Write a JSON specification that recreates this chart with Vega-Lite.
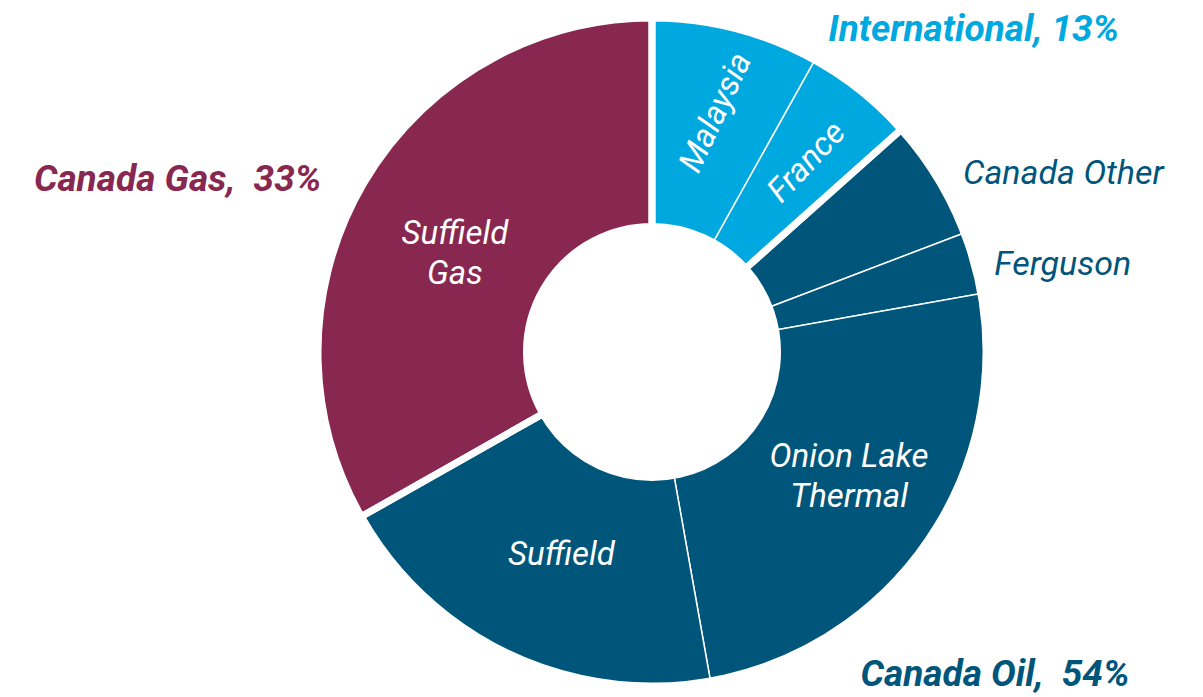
{
  "$schema": "https://vega.github.io/schema/vega-lite/v6.json",
  "width": 1102,
  "height": 690,
  "autosize": {"type": "none"},
  "padding": {"left": 101, "top": 7, "right": 0, "bottom": 0},
  "background": "white",
  "config": {"view": {"stroke": null}, "text": {"font": "Roboto"}},
  "datasets": {
    "segments": [
      {"seq": 1, "group": "International", "segment": "Malaysia", "label": "Malaysia", "value": 8.1},
      {"seq": 2, "group": "International", "segment": "France", "label": "France", "value": 5.3},
      {"seq": 3, "group": "Canada Oil", "segment": "Canada Other", "label": "Canada Other", "value": 5.8},
      {"seq": 4, "group": "Canada Oil", "segment": "Ferguson", "label": "Ferguson", "value": 3.0},
      {"seq": 5, "group": "Canada Oil", "segment": "Onion Lake Thermal", "label": "Onion Lake\nThermal", "value": 25.0},
      {"seq": 6, "group": "Canada Oil", "segment": "Suffield", "label": "Suffield", "value": 19.6},
      {"seq": 7, "group": "Canada Gas", "segment": "Suffield Gas", "label": "Suffield\nGas", "value": 33.2}
    ],
    "groups": [
      {"seq": 1, "group": "International", "label": "International, 13%", "value": 13.4},
      {"seq": 2, "group": "Canada Oil", "label": "Canada Oil,\u00a0 54%", "value": 53.4},
      {"seq": 3, "group": "Canada Gas", "label": "Canada Gas,\u00a0 33%", "value": 33.2}
    ]
  },
  "layer": [
    {
      "data": {"name": "segments"},
      "mark": {"type": "arc", "outerRadius": 334, "innerRadius": 125.5, "stroke": "white", "strokeWidth": 1.5},
      "encoding": {
        "theta": {"field": "value", "type": "quantitative", "stack": true},
        "order": {"field": "seq", "type": "quantitative"},
        "detail": {"field": "segment", "type": "nominal"},
        "color": {"field": "group", "type": "nominal", "legend": null,
          "scale": {"domain": ["International", "Canada Oil", "Canada Gas"], "range": ["#00A8E0", "#00557A", "#88274F"]}}
      }
    },
    {
      "data": {"name": "groups"},
      "mark": {"type": "arc", "outerRadius": 334, "innerRadius": 125.5, "fillOpacity": 0, "fill": "white", "stroke": "white", "strokeWidth": 7, "strokeJoin": "miter"},
      "encoding": {
        "theta": {"field": "value", "type": "quantitative", "stack": true},
        "order": {"field": "seq", "type": "quantitative"},
        "detail": {"field": "group", "type": "nominal"}
      }
    },
    {
      "data": {"name": "segments"},
      "mark": {"type": "text", "radius": 220, "dx": -7, "dy": -7, "font": "Roboto", "fontStyle": "italic", "fontSize": 33, "lineBreak": "\n", "lineHeight": 40, "align": "center", "baseline": "middle", "color": "white"},
      "encoding": {
        "theta": {"field": "value", "type": "quantitative", "stack": true},
        "order": {"field": "seq", "type": "quantitative"},
        "detail": {"field": "segment", "type": "nominal"},
        "text": {"condition": {"test": "datum.segment === 'Suffield Gas'", "field": "label", "type": "nominal"}, "value": ""}
      }
    },
    {
      "data": {"name": "segments"},
      "mark": {"type": "text", "radius": 222, "dx": 4, "dy": 2, "font": "Roboto", "fontStyle": "italic", "fontSize": 33, "lineBreak": "\n", "lineHeight": 40, "align": "center", "baseline": "middle", "color": "white"},
      "encoding": {
        "theta": {"field": "value", "type": "quantitative", "stack": true},
        "order": {"field": "seq", "type": "quantitative"},
        "detail": {"field": "segment", "type": "nominal"},
        "text": {"condition": {"test": "datum.segment === 'Suffield'", "field": "label", "type": "nominal"}, "value": ""}
      }
    },
    {
      "data": {"name": "segments"},
      "mark": {"type": "text", "radius": 233, "dx": 6, "dy": -28, "font": "Roboto", "fontStyle": "italic", "fontSize": 33, "lineBreak": "\n", "lineHeight": 40, "align": "center", "baseline": "middle", "color": "white"},
      "encoding": {
        "theta": {"field": "value", "type": "quantitative", "stack": true},
        "order": {"field": "seq", "type": "quantitative"},
        "detail": {"field": "segment", "type": "nominal"},
        "text": {"condition": {"test": "datum.segment === 'Onion Lake Thermal'", "field": "label", "type": "nominal"}, "value": ""}
      }
    },
    {
      "data": {"name": "segments"},
      "mark": {"type": "text", "radius": 244, "dx": 4, "dy": 1, "angle": 295, "font": "Roboto", "fontStyle": "italic", "fontSize": 33, "align": "center", "baseline": "middle", "color": "white"},
      "encoding": {
        "theta": {"field": "value", "type": "quantitative", "stack": true},
        "order": {"field": "seq", "type": "quantitative"},
        "detail": {"field": "segment", "type": "nominal"},
        "text": {"condition": {"test": "datum.segment === 'Malaysia'", "field": "label", "type": "nominal"}, "value": ""}
      }
    },
    {
      "data": {"name": "segments"},
      "mark": {"type": "text", "radius": 242, "dx": 3, "dy": 2, "angle": 313, "font": "Roboto", "fontStyle": "italic", "fontSize": 33, "align": "center", "baseline": "middle", "color": "white"},
      "encoding": {
        "theta": {"field": "value", "type": "quantitative", "stack": true},
        "order": {"field": "seq", "type": "quantitative"},
        "detail": {"field": "segment", "type": "nominal"},
        "text": {"condition": {"test": "datum.segment === 'France'", "field": "label", "type": "nominal"}, "value": ""}
      }
    },
    {
      "data": {"name": "segments"},
      "mark": {"type": "text", "radius": 444, "dx": 32, "dy": 53, "font": "Roboto", "fontStyle": "italic", "fontSize": 34, "align": "center", "baseline": "middle", "color": "#00557A"},
      "encoding": {
        "theta": {"field": "value", "type": "quantitative", "stack": true},
        "order": {"field": "seq", "type": "quantitative"},
        "detail": {"field": "segment", "type": "nominal"},
        "text": {"condition": {"test": "datum.segment === 'Canada Other'", "field": "label", "type": "nominal"}, "value": ""}
      }
    },
    {
      "data": {"name": "segments"},
      "mark": {"type": "text", "radius": 419, "dx": 7, "dy": 25, "font": "Roboto", "fontStyle": "italic", "fontSize": 34, "align": "center", "baseline": "middle", "color": "#00557A"},
      "encoding": {
        "theta": {"field": "value", "type": "quantitative", "stack": true},
        "order": {"field": "seq", "type": "quantitative"},
        "detail": {"field": "segment", "type": "nominal"},
        "text": {"condition": {"test": "datum.segment === 'Ferguson'", "field": "label", "type": "nominal"}, "value": ""}
      }
    },
    {
      "data": {"name": "groups"},
      "mark": {"type": "text", "radius": 425, "dx": 148, "dy": 66, "font": "Roboto", "fontStyle": "italic", "fontWeight": "bold", "fontSize": 37, "align": "center", "baseline": "middle", "color": "#00A8E0"},
      "encoding": {
        "theta": {"field": "value", "type": "quantitative", "stack": true},
        "order": {"field": "seq", "type": "quantitative"},
        "detail": {"field": "group", "type": "nominal"},
        "text": {"condition": {"test": "datum.group === 'International'", "field": "label", "type": "nominal"}, "value": ""}
      }
    },
    {
      "data": {"name": "groups"},
      "mark": {"type": "text", "radius": 465, "dx": 72, "dy": -55, "font": "Roboto", "fontStyle": "italic", "fontWeight": "bold", "fontSize": 37, "align": "center", "baseline": "middle", "color": "#00557A"},
      "encoding": {
        "theta": {"field": "value", "type": "quantitative", "stack": true},
        "order": {"field": "seq", "type": "quantitative"},
        "detail": {"field": "group", "type": "nominal"},
        "text": {"condition": {"test": "datum.group === 'Canada Oil'", "field": "label", "type": "nominal"}, "value": ""}
      }
    },
    {
      "data": {"name": "groups"},
      "mark": {"type": "text", "radius": 497, "dx": -45, "dy": 78, "font": "Roboto", "fontStyle": "italic", "fontWeight": "bold", "fontSize": 37, "align": "center", "baseline": "middle", "color": "#88274F"},
      "encoding": {
        "theta": {"field": "value", "type": "quantitative", "stack": true},
        "order": {"field": "seq", "type": "quantitative"},
        "detail": {"field": "group", "type": "nominal"},
        "text": {"condition": {"test": "datum.group === 'Canada Gas'", "field": "label", "type": "nominal"}, "value": ""}
      }
    }
  ]
}
